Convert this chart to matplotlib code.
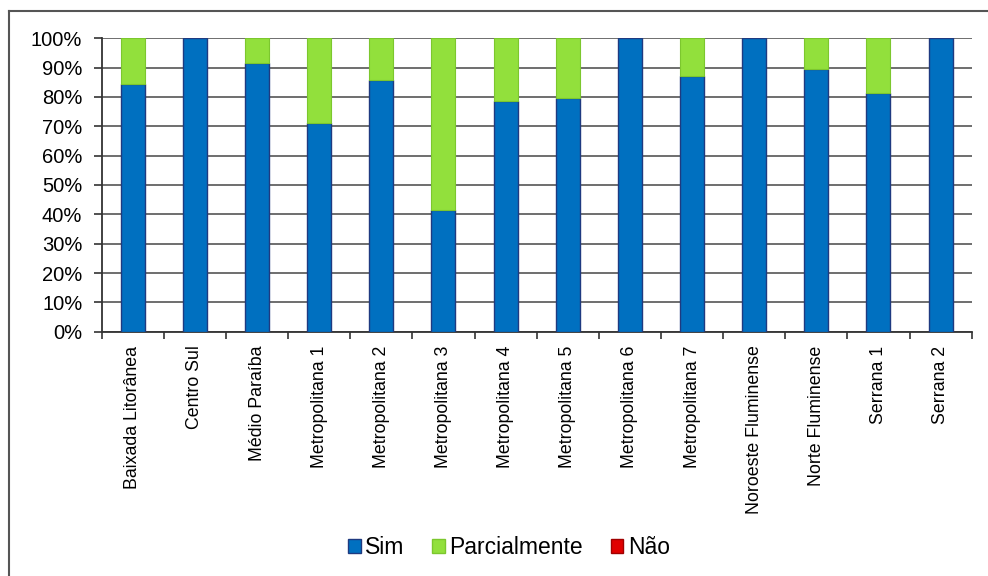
import matplotlib
matplotlib.use("Agg")
import matplotlib.pyplot as plt
import numpy as np
from matplotlib.lines import Line2D
from matplotlib.patches import Patch

plt.rcParams['font.family'] = ['Liberation Sans', 'DejaVu Sans']

categories = ["Baixada Litorânea", "Centro Sul", "Médio Paraíba", "Metropolitana 1",
              "Metropolitana 2", "Metropolitana 3", "Metropolitana 4", "Metropolitana 5",
              "Metropolitana 6", "Metropolitana 7", "Noroeste Fluminense",
              "Norte Fluminense", "Serrana 1", "Serrana 2"]
sim = [84.3, 100, 91.5, 71.3, 85.7, 41.6, 78.5, 79.8, 100, 87.1, 100, 89.6, 81.5, 100]
parcialmente = [15.7, 0, 8.5, 28.7, 14.3, 58.4, 21.5, 20.2, 0, 12.9, 0, 10.4, 18.5, 0]
nao = [0] * 14
series_names = ["Sim", "Parcialmente", "Não"]
y_ticks = [0, 10, 20, 30, 40, 50, 60, 70, 80, 90, 100]

c_blue = "#0070C0"
c_green = "#92E03C"
c_red = "#E00000"

fig = plt.figure(figsize=(9.88, 5.76), dpi=100)
ax = fig.add_axes([101.7 / 988, 1 - 331.7 / 576, (971.7 - 101.7) / 988, (331.7 - 38.3) / 576])

x = np.arange(len(categories))
w = 0.386
sim_a = np.array(sim)
par_a = np.array(parcialmente)
nao_a = np.array(nao)
ax.bar(x, sim_a, w, color=c_blue, edgecolor="#1F3A80", linewidth=1.0, zorder=3)
ax.bar(x, par_a, w, bottom=sim_a, color=c_green, edgecolor="#7CC72E",
       linewidth=[0.8 if v > 0 else 0 for v in parcialmente], zorder=3)
ax.bar(x, nao_a, w, bottom=sim_a + par_a, color=c_red, linewidth=0.0, zorder=3)

ax.set_xlim(-0.5, len(categories) - 0.5)
ax.set_ylim(0, 100)
ax.set_yticks(y_ticks)
ax.set_yticklabels([f"{v}%" for v in y_ticks], fontsize=14.5)
ax.yaxis.grid(True, color="#555555", linewidth=1.2, zorder=0)
ax.set_axisbelow(True)
ax.tick_params(axis='y', length=6, width=1.2, pad=8, color="#333333")

ax.set_xticks(x)
ax.set_xticklabels(categories, rotation=90, fontsize=12.8, va='top', ha='center')
ax.tick_params(axis='x', which='major', length=0, pad=10)
ax.set_xticks(np.arange(-0.5, len(categories) + 0.5, 1), minor=True)
ax.tick_params(axis='x', which='minor', length=5, width=1.2, color="#333333")

for s in ['top', 'right']:
    ax.spines[s].set_visible(False)
for s in ['left', 'bottom']:
    ax.spines[s].set_color("#333333")
    ax.spines[s].set_linewidth(1.3)

# outer frame (partially visible)
fig.add_artist(Line2D([9 / 988, 9 / 988], [0, 1 - 10.5 / 576], transform=fig.transFigure,
                      color="#555555", linewidth=1.5))
fig.add_artist(Line2D([9 / 988, 1], [1 - 10.5 / 576, 1 - 10.5 / 576], transform=fig.transFigure,
                      color="#555555", linewidth=1.5))

handles = [Patch(facecolor=c_blue, edgecolor="#1F3A80"),
           Patch(facecolor=c_green, edgecolor="#7CC72E"),
           Patch(facecolor=c_red, edgecolor="#A00000")]
fig.legend(handles, series_names, loc='center', bbox_to_anchor=(509 / 988, 1 - 548 / 576),
           ncol=3, frameon=False, fontsize=16.5, handlelength=0.55, handleheight=0.55,
           handletextpad=0.2, columnspacing=1.2)

fig.savefig("out.png", dpi=100)
